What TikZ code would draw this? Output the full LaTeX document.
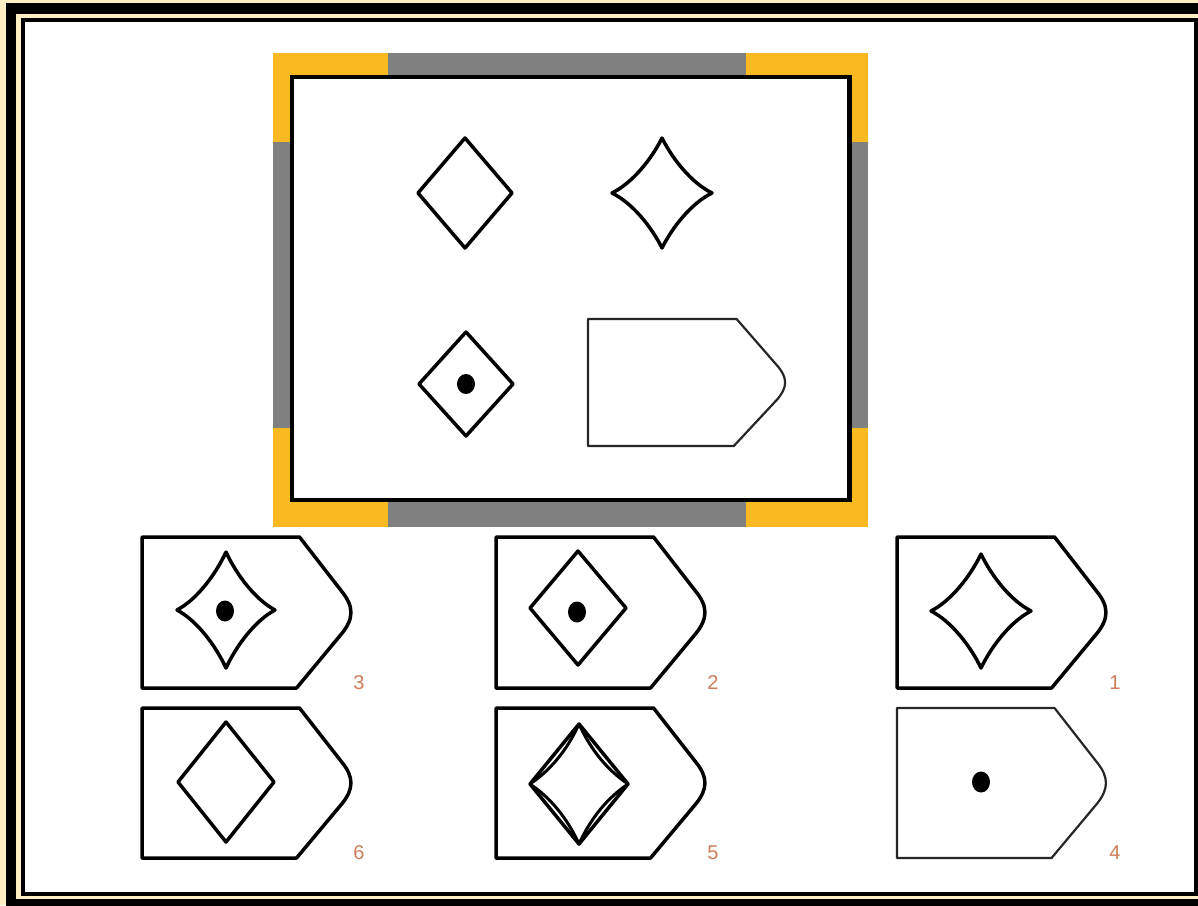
\documentclass[tikz,border=0pt]{standalone}
\usepackage{fontspec}
\setmainfont{Liberation Sans}
\definecolor{cream}{RGB}{255,239,194}
\definecolor{frameyellow}{RGB}{251,185,33}
\definecolor{framegray}{RGB}{128,128,128}
\definecolor{labelcol}{RGB}{205,125,90}
\tikzset{
  shp/.style={line width=3.5pt, line join=round, draw=black},
  thinshp/.style={line width=2.2pt, line join=round, draw=black!85},
  lbl/.style={text=labelcol, font=\fontsize{20}{20}\selectfont, inner sep=0pt},
  stardraw/.pic={\draw[shp] (0,-1) .. controls (0.22,-0.6) and (0.6,-0.18) .. (1,0)
      .. controls (0.6,0.18) and (0.22,0.6) .. (0,1)
      .. controls (-0.22,0.6) and (-0.6,0.18) .. (-1,0)
      .. controls (-0.6,-0.18) and (-0.22,-0.6) .. cycle;},
  softstar/.pic={\draw[shp, line width=3pt] (0,-1) .. controls (0.25,-0.55) and (0.6,-0.22) .. (1,0)
      .. controls (0.6,0.22) and (0.25,0.55) .. (0,1)
      .. controls (-0.25,0.55) and (-0.6,0.22) .. (-1,0)
      .. controls (-0.6,-0.22) and (-0.25,-0.55) .. cycle;},
  diamdraw/.pic={\draw[shp] (0,-1) -- (1,0) -- (0,1) -- (-1,0) -- cycle;},
  pentdraw/.pic={\draw[#1] (0,0) -- (0.743,0) -- (0.942,0.36) .. controls (1.0,0.46) and (1.0,0.54) .. (0.942,0.64)
      -- (0.729,1) -- (0,1) -- cycle;},
  dot/.style={fill=black}
}
\begin{document}
\begin{tikzpicture}[x=1pt,y=-1pt]
\useasboundingbox (0,0) rectangle (1198,905);
\clip (0,0) rectangle (1198,905);
% outer border
\fill[cream] (0,0) rectangle (1198,905);
\fill[black] (6,3) rectangle (1220,912);
\fill[cream] (16,14) rectangle (1210,899);
\fill[black] (21,18) rectangle (1198,896);
\fill[white] (25,22) rectangle (1194,892);
% frame
\fill[framegray] (273,53) rectangle (868,527);
\fill[frameyellow] (273,53) rectangle (388,142);
\fill[frameyellow] (746,53) rectangle (868,142);
\fill[frameyellow] (273,428) rectangle (388,527);
\fill[frameyellow] (746,428) rectangle (868,527);
\fill[white] (292,77) rectangle (849.5,500);
\draw[line width=4.5pt] (292,77) rectangle (849.5,500);
% matrix contents
\pic[xscale=47,yscale=55] at (465,193) {diamdraw};
\pic[xscale=50,yscale=55] at (662,193) {stardraw};
\pic[xscale=47,yscale=52] at (466,384) {diamdraw};
\fill[dot] (466,384) ellipse [x radius=9, y radius=10];
\pic[xscale=200,yscale=127] at (588,319) {pentdraw=thinshp};
% option 3
\pic[xscale=212,yscale=151] at (142,537) {pentdraw=shp};
\pic[xscale=49,yscale=58] at (226,610) {stardraw};
\fill[dot] (225,611) ellipse [x radius=9, y radius=10.5];
\node[lbl] (l3) at (359,683) {3};
% option 2
\pic[xscale=212,yscale=151] at (496,537) {pentdraw=shp};
\pic[xscale=48,yscale=57] at (578,608) {diamdraw};
\fill[dot] (577,612) ellipse [x radius=9, y radius=10.5];
\node[lbl] (l2) at (713,683) {2};
% option 1
\pic[xscale=212,yscale=151] at (897,537) {pentdraw=shp};
\pic[xscale=50,yscale=57] at (981,611) {stardraw};
\node[lbl] (l1) at (1115,683) {1};
% option 6
\pic[xscale=212,yscale=150] at (142,708) {pentdraw=shp};
\pic[xscale=48,yscale=60] at (226,782) {diamdraw};
\node[lbl] (l6) at (359,853) {6};
% option 5
\pic[xscale=212,yscale=150] at (496,708) {pentdraw=shp};
\pic[xscale=49,yscale=60] at (579,784) {diamdraw};
\pic[xscale=49,yscale=60] at (579,784) {softstar};
\node[lbl] (l5) at (713,853) {5};
% option 4
\pic[xscale=212,yscale=150] at (897,708) {pentdraw=thinshp};
\fill[dot] (981,782) ellipse [x radius=9, y radius=10.5];
\node[lbl] (l4) at (1115,853) {4};
\end{tikzpicture}
\end{document}
